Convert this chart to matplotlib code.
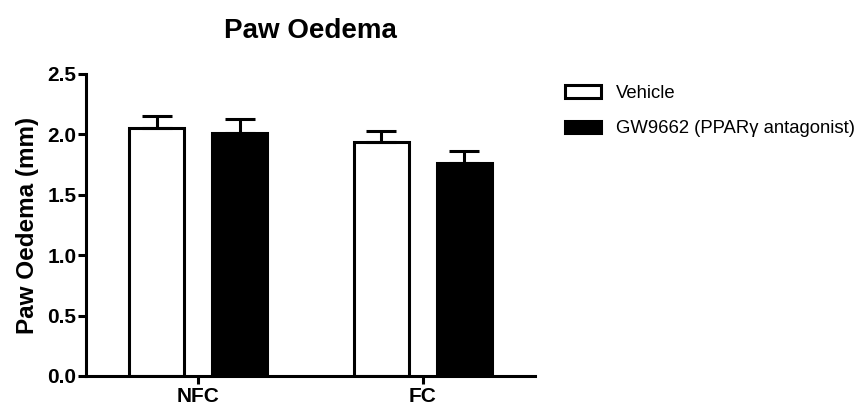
import matplotlib.pyplot as plt
import numpy as np

plt.rcParams['font.family'] = ['Liberation Sans', 'DejaVu Sans']

groups = ['NFC', 'FC']
series = ['Vehicle', 'GW9662 (PPAR\u03b3 antagonist)']
vehicle_mean = [2.05, 1.94]
vehicle_sem = [0.10, 0.09]
gw_mean = [2.01, 1.76]
gw_sem = [0.12, 0.10]

x = np.arange(len(groups))
width = 0.245
offset = 0.185
lw = 2.2

fig = plt.figure(figsize=(8.67, 4.07), dpi=100)
ax = fig.add_axes([0.0992, 0.0762, 0.518, 0.742])

err_kw = dict(ecolor='black', elinewidth=lw, capsize=11, capthick=lw)
ax.bar(x - offset, vehicle_mean, width, color='white', edgecolor='black',
       linewidth=lw, label=series[0],
       yerr=[np.zeros(len(groups)), vehicle_sem], error_kw=err_kw)
ax.bar(x + offset, gw_mean, width, color='black', edgecolor='black',
       linewidth=lw, label=series[1],
       yerr=[np.zeros(len(groups)), gw_sem], error_kw=err_kw)

ax.set_xlim(-0.5, 1.5)
ax.set_ylim(0, 2.5)
yt = np.arange(0, 2.51, 0.5)
ax.set_yticks(yt)
ax.set_yticklabels([f'{v:.1f}' for v in yt], fontweight='bold', fontsize=15)
ax.set_xticks(x)
ax.set_xticklabels(groups, fontweight='bold', fontsize=15)
ax.tick_params(axis='both', width=lw, length=6)
ax.tick_params(axis='y', pad=1)
ax.tick_params(axis='x', pad=2)

for side in ['top', 'right']:
    ax.spines[side].set_visible(False)
for side in ['left', 'bottom']:
    ax.spines[side].set_linewidth(lw)

ax.set_ylabel('Paw Oedema (mm)', fontsize=17.5, fontweight='bold', labelpad=6)
ax.set_title('Paw Oedema', fontsize=20, fontweight='bold', pad=26)

ax.legend(loc='upper left', bbox_to_anchor=(0.632, 0.832),
          bbox_transform=fig.transFigure, frameon=False,
          fontsize=13.3, handlelength=1.95, handleheight=0.7,
          labelspacing=1.0, handletextpad=0.85)

plt.savefig('out.png', dpi=100)
